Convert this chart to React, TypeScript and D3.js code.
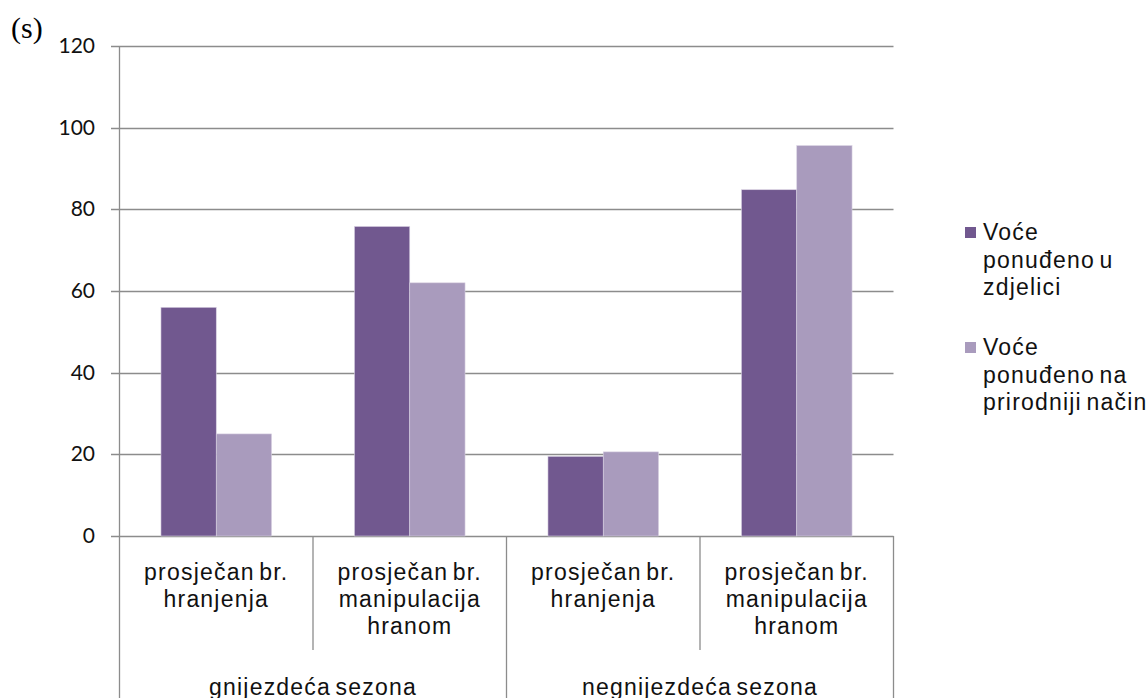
import React from "react";
import * as d3 from "d3";

const categoryLines: string[][] = [
  ["prosječan br.", "hranjenja"],
  ["prosječan br.", "manipulacija", "hranom"],
  ["prosječan br.", "hranjenja"],
  ["prosječan br.", "manipulacija", "hranom"],
];
const groups = ["gnijezdeća sezona", "negnijezdeća sezona"];
const seriesNames = ["s1", "s2"];
const legendLines: string[][] = [
  ["Voće", "ponuđeno u", "zdjelici"],
  ["Voće", "ponuđeno na", "prirodniji način"],
];
const series1 = [56, 75.8, 19.5, 84.8];
const series2 = [25, 62, 20.6, 95.6];
const yTicks = [0, 20, 40, 60, 80, 100, 120];
const colors = ["#71588F", "#A99BBD"];

export default function App() {
  const W = 1148, H = 698;
  const left = 119.5, right = 893.5, top = 46, bottom = 536;
  const y = d3.scaleLinear().domain([0, 120]).range([bottom, top]);
  const catIdx = categoryLines.map((_, i) => String(i));
  const x = d3.scaleBand<string>().domain(catIdx).range([left, right]).paddingInner(0).paddingOuter(0);
  const xs = d3.scaleBand<string>().domain(seriesNames).range([0, x.bandwidth()]).paddingInner(0).paddingOuter(0.75);
  const values = [series1, series2];
  const grid = "#8c8c8c";
  const labelFont = "'Liberation Sans', Arial, sans-serif";
  const tickFont = "Lato, 'Open Sans', sans-serif";
  const fs = 23, ls = 1.2;
  return (
    <div style={{ position: "absolute", left: 0, top: 0 }}>
      <svg width={W} height={H} style={{ display: "block", background: "#fff" }}>
        <text x={11} y={38} fontFamily="'Liberation Serif', 'Times New Roman', serif" fontSize={30} fill="#000">(s)</text>
        {yTicks.map((t) => (
          <g key={t}>
            <line x1={111} x2={right} y1={Math.round(y(t)) + 0.5} y2={Math.round(y(t)) + 0.5} stroke={grid} strokeWidth={1.3} />
            <text x={95} y={y(t) + 7} textAnchor="end" fontFamily={tickFont} fontSize={21} fill="#111">{t}</text>
          </g>
        ))}
        {values.map((vals, s) =>
          vals.map((v, i) => (
            <rect key={`${s}-${i}`} x={(x(String(i)) as number) + (xs(seriesNames[s]) as number)} y={y(v)} width={xs.bandwidth()} height={bottom - y(v)} fill={colors[s]} stroke="#d8d0e2" strokeWidth={0.6} />
          ))
        )}
        <line x1={left} x2={left} y1={top} y2={H} stroke={grid} strokeWidth={1.3} />
        {catIdx.map((c, i) => {
          const xr = (x(c) as number) + x.bandwidth();
          const full = i % 2 === 1;
          return <line key={c} x1={xr} x2={xr} y1={bottom} y2={full ? H : 650} stroke={grid} strokeWidth={1.3} />;
        })}
        {categoryLines.map((lines, i) => {
          const cx = (x(String(i)) as number) + x.bandwidth() / 2;
          return (
            <text key={i} textAnchor="middle" fontFamily={labelFont} fontSize={fs} letterSpacing={ls} wordSpacing={-3} fill="#111">
              {lines.map((l, k) => (
                <tspan key={k} x={cx} y={580 + k * 27}>{l}</tspan>
              ))}
            </text>
          );
        })}
        {groups.map((g, gi) => {
          const x0 = x(String(gi * 2)) as number;
          const cx = x0 + x.bandwidth();
          return (
            <text key={g} x={cx} y={695} textAnchor="middle" fontFamily={labelFont} fontSize={fs} letterSpacing={ls} wordSpacing={-3} fill="#111">{g}</text>
          );
        })}
        {legendLines.map((lines, s) => {
          const by = 240 + s * 115;
          return (
            <g key={s}>
              <rect x={965} y={by - 13} width={11} height={11} fill={colors[s]} />
              <text fontFamily={labelFont} fontSize={fs} letterSpacing={ls} wordSpacing={-3} fill="#111">
                {lines.map((l, k) => (
                  <tspan key={k} x={983} y={by + k * 27.5}>{l}</tspan>
                ))}
              </text>
            </g>
          );
        })}
      </svg>
    </div>
  );
}
